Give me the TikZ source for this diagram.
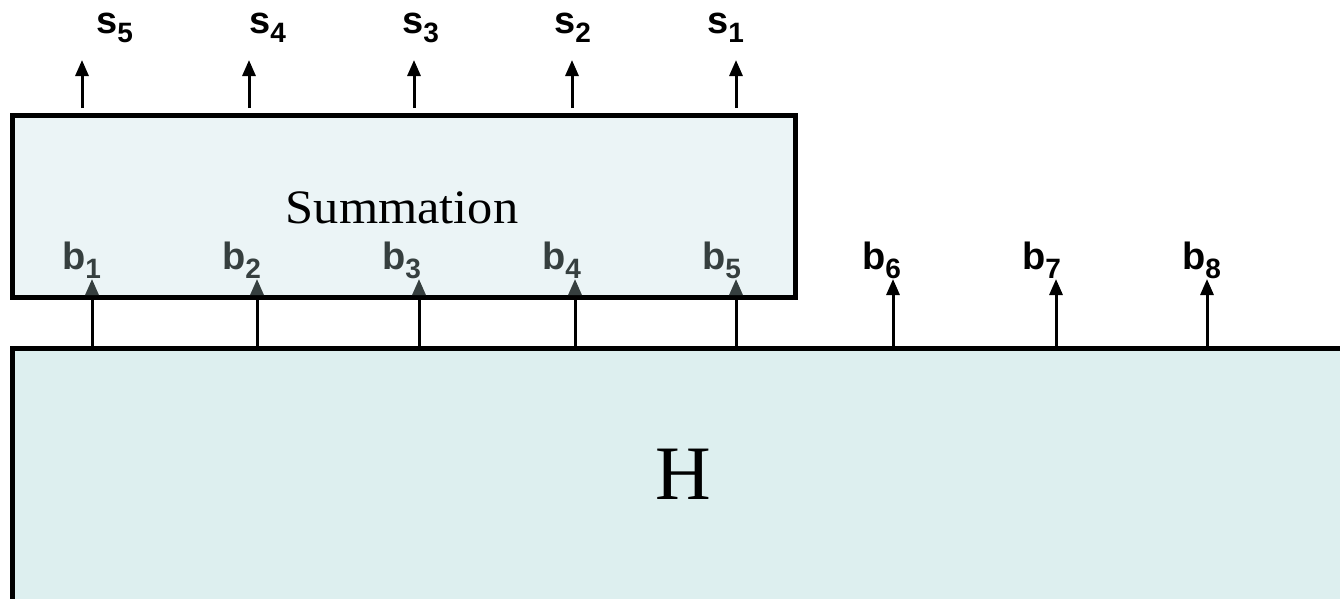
\documentclass[tikz,border=0pt]{standalone}
\usepackage{fontspec}
\setmainfont{Liberation Serif}
\newfontfamily\labfont{Liberation Sans}
\usetikzlibrary{arrows.meta}
\definecolor{sumfill}{HTML}{EBF4F6}
\definecolor{hfill}{HTML}{DDEFEF}
\definecolor{labgray}{HTML}{363F3F}
\newcommand\mylbl[2]{{\labfont\bfseries\fontsize{38}{42}\selectfont #1\raisebox{-9pt}{\fontsize{28}{32}\selectfont #2}}}
\tikzset{
  box/.style={draw=black, line width=5pt, inner sep=0pt, line join=miter},
  arr/.style={line width=3pt, -{Triangle[width=13pt,length=16pt]}},
  arrg/.style={line width=3pt, -{Triangle[width=13pt,length=16pt,color=labgray]}},
  lab/.style={inner sep=0pt, anchor=base west},
}
\begin{document}
\begin{tikzpicture}[x=1pt,y=-1pt]
\useasboundingbox (0,0) rectangle (1340,598);
\clip (0,0) rectangle (1340,598);
% boxes
\node[box, fill=hfill, minimum width=1338pt, minimum height=257pt] (H) at (681,476.5) {};
\node[box, fill=sumfill, minimum width=783pt, minimum height=182pt] (S) at (403.5,206) {};
\node[inner sep=0pt, anchor=base, font=\fontsize{77}{80}\selectfont] (Htxt) at (683,499) {H};
\node[inner sep=0pt, anchor=base, font=\fontsize{48}{50}\selectfont] (Stxt) at (402,223) {\scalebox{1.05}[1]{Summation}};
% s outputs
\foreach \x/\lx/\n in {82/96/5, 249/249/4, 414/402/3, 572/554/2, 736/707/1}{
  \coordinate (sb\n) at (\x,108);
  \coordinate (st\n) at (\x,60);
  \draw[arr] (sb\n) -- (st\n);
  \node[lab] (sl\n) at (\lx,33) {\mylbl{s}{\n}};
}
% b inputs inside summation
\foreach \x/\lx/\n in {92/62/1, 257/222/2, 419/382/3, 575/542/4, 736/702/5}{
  \coordinate (bt\n) at (\x,279);
  \draw[arrg] (bt\n |- H.north) -- (bt\n);
  \node[lab, text=labgray] (bl\n) at (\lx,269) {\mylbl{b}{\n}};
}
% b outputs outside
\foreach \x/\lx/\n in {893/862/6, 1056/1022/7, 1207/1182/8}{
  \coordinate (bt\n) at (\x,279);
  \draw[arr] (bt\n |- H.north) -- (bt\n);
  \node[lab] (bl\n) at (\lx,269) {\mylbl{b}{\n}};
}
\end{tikzpicture}
\end{document}
